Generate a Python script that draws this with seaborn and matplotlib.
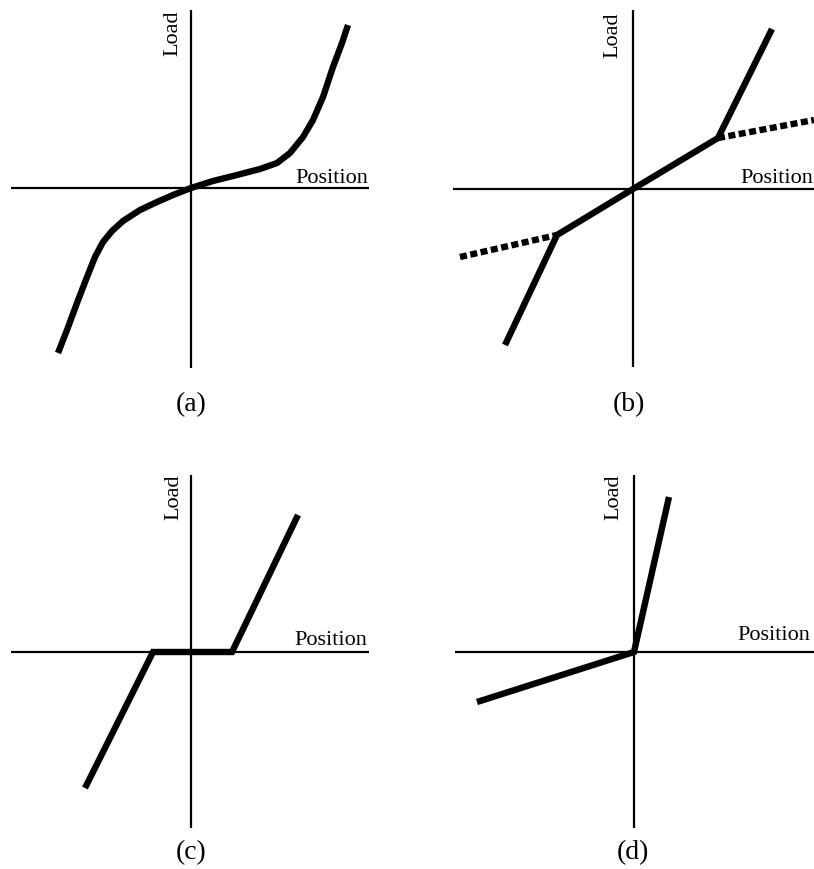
import matplotlib
matplotlib.use("Agg")
import matplotlib.pyplot as plt
import seaborn as sns
import pandas as pd

# ---- data (position / load, origin at the axis crossing) ----
# (a) smooth stiffening curve
a_pos = [-133, -124, -114, -104, -96, -88, -79, -68, -51, -34, -18, 0,
         22, 46, 69, 86, 99, 112, 122, 132, 142, 151, 157]
a_load = [-165, -142, -115, -89, -69, -54, -43, -33, -22, -14, -7, 0,
          7, 13, 19, 25, 35, 51, 68, 91, 121, 145, 163]

# (b) piecewise-linear stiffening, with dotted continuation of the soft branch
b_pos = [-128, -76, 0, 85, 139]
b_load = [-156, -46, 0, 51, 160]
b_left_dot_pos = [-173, -76]
b_left_dot_load = [-68, -46]
b_right_dot_pos = [85, 181]
b_right_dot_load = [51, 69]

# (c) dead band around zero
c_pos = [-106, -38, 41, 107]
c_load = [-136, 0, 0, 137]

# (d) asymmetric stiffness
d_pos = [-157, 0, 35]
d_load = [-50, 0, 155]

captions = ["(a)", "(b)", "(c)", "(d)"]

# ---- layout ----
W, H = 814, 869
sns.set_style("white")
plt.rcParams["font.family"] = ["Liberation Serif", "DejaVu Serif"]
plt.rcParams["text.color"] = "black"

fig = plt.figure(figsize=(W / 100, H / 100), dpi=100)

# panel boxes in pixels: (left, top, width, height), origin pixel (x, y)
panels = [
    dict(box=(0, 0, 407, 434), origin=(191, 188), hx=(-180, 178), vy=(-180, 178),
         load_xy=(-9, 178), pos_xy=(177, 5), cap_xy=(0, -217)),
    dict(box=(407, 0, 407, 434), origin=(633, 189), hx=(-180, 181), vy=(-178, 179),
         load_xy=(-11, 177), pos_xy=(180, 6), cap_xy=(-4, -216)),
    dict(box=(0, 434, 407, 435), origin=(191, 652), hx=(-180, 178), vy=(-176, 177),
         load_xy=(-8, 177), pos_xy=(176, 7), cap_xy=(0, -201)),
    dict(box=(407, 434, 407, 435), origin=(634, 652), hx=(-179, 180), vy=(-176, 177),
         load_xy=(-11, 177), pos_xy=(176, 12), cap_xy=(-1, -201)),
]

LW = 4.6
axes = []
for p in panels:
    l, t, w, h = p["box"]
    ox, oy = p["origin"]
    ax = fig.add_axes([l / W, 1 - (t + h) / H, w / W, h / H])
    ax.set_xlim(l - ox, l + w - ox)
    ax.set_ylim(oy - (t + h), oy - t)
    ax.axis("off")
    # coordinate axes
    ax.plot(p["hx"], [0, 0], color="black", lw=1.6, solid_capstyle="butt")
    ax.plot([0, 0], p["vy"], color="black", lw=1.6, solid_capstyle="butt")
    ax.text(p["load_xy"][0], p["load_xy"][1], "Load", rotation=90,
            ha="right", va="top", fontsize=16, color="black")
    ax.text(p["pos_xy"][0], p["pos_xy"][1], "Position",
            ha="right", va="baseline", fontsize=16, color="black")
    axes.append(ax)


def draw(ax, x, y, dotted=False, join="miter"):
    df = pd.DataFrame({"Position": x, "Load": y})
    kw = dict(color="black", lw=LW, sort=False, estimator=None,
              solid_capstyle="butt", solid_joinstyle=join)
    if dotted:
        kw.update(linestyle=(0, (1.1, 0.55)), dash_capstyle="butt")
    sns.lineplot(data=df, x="Position", y="Load", ax=ax, **kw)
    ax.axis("off")


draw(axes[0], a_pos, a_load, join="round")
draw(axes[1], b_left_dot_pos, b_left_dot_load, dotted=True)
draw(axes[1], b_right_dot_pos, b_right_dot_load, dotted=True)
draw(axes[1], b_pos, b_load)
draw(axes[2], c_pos, c_load)
draw(axes[3], d_pos, d_load)

for ax, p, cap in zip(axes, panels, captions):
    ax.text(p["cap_xy"][0], p["cap_xy"][1], cap, ha="center", va="center",
            fontsize=20, color="black")

fig.savefig("out.png", dpi=100)
